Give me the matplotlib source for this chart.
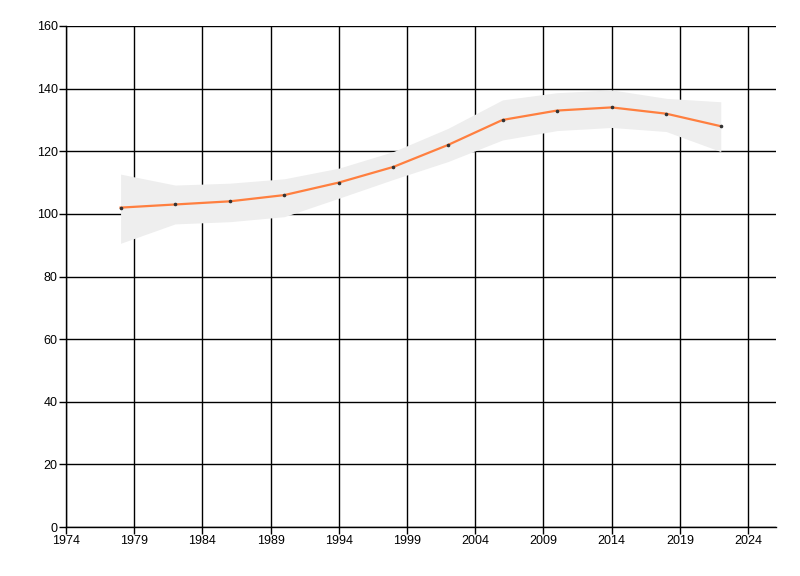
import matplotlib
matplotlib.use("Agg")
import matplotlib.pyplot as plt
import numpy as np

years = [1978, 1982, 1986, 1990, 1994, 1998, 2002, 2006, 2010, 2014, 2018, 2022]
values = [102, 103, 104, 106, 110, 115, 122, 130, 133, 134, 132, 128]
upper = [112.7, 109.2, 109.8, 111.2, 114.6, 119.9, 127.3, 136.4, 138.7, 139.6, 136.9, 135.8]
lower = [90.6, 96.8, 97.5, 99.1, 105.0, 111.0, 116.7, 123.6, 126.6, 127.6, 126.3, 119.9]
xticks = list(range(1974, 2025, 5))
yticks = list(range(0, 161, 20))

plt.rcParams['font.family'] = ['Liberation Sans Narrow', 'Liberation Sans', 'DejaVu Sans']

fig = plt.figure(figsize=(8, 5.76), dpi=100)
ax = fig.add_axes([66/800, 1 - 527/576, (776-66)/800, (527-26)/576])

ax.fill_between(years, lower, upper, color='#eeeeee', linewidth=0, zorder=2)
ax.plot(years, values, color='#ff7f3f', linewidth=1.6, zorder=3)
ax.plot(years, values, linestyle='none', marker='o', markersize=1.6, color='#333333', zorder=4)

ax.set_xlim(1974, 2026.05)
ax.set_ylim(0, 160)
ax.set_xticks(xticks)
ax.set_yticks(yticks)
ax.grid(True, color='black', linewidth=1, zorder=1)
ax.set_axisbelow(True)
for s in ['top', 'right']:
    ax.spines[s].set_visible(False)
for s in ['left', 'bottom']:
    ax.spines[s].set_linewidth(1)
ax.tick_params(axis='both', labelsize=9, length=5, width=1, colors='black', pad=1)

fig.savefig('out.png', dpi=100)
